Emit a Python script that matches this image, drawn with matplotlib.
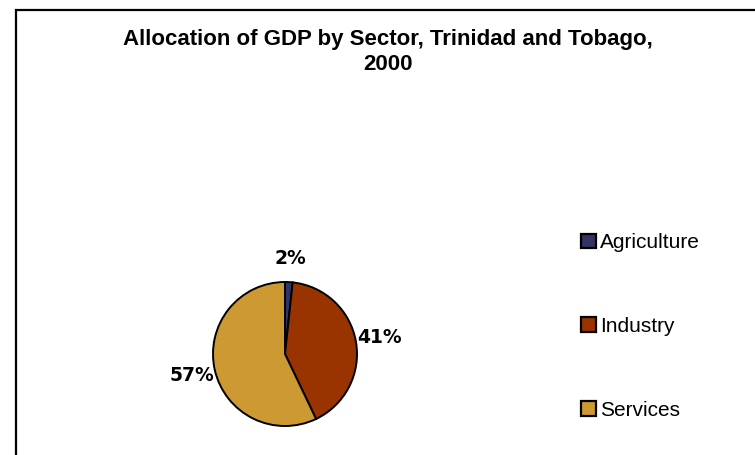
import matplotlib.pyplot as plt
from matplotlib.patches import Rectangle, Patch

# GDP shares by sector, 2000
sectors = ['Agriculture', 'Industry', 'Services']
shares = [1.7, 41.2, 57.1]
colors = ['#333366', '#993300', '#CC9933']

W, H = 755, 455
fig = plt.figure(figsize=(W / 100, H / 100), dpi=100)
fig.patch.set_facecolor('white')

# chart frame (right/bottom edges run off the image)
fig.patches.append(Rectangle((16 / W, -0.1), 1.2, (H - 10) / H + 0.1,
                             transform=fig.transFigure, fill=False,
                             edgecolor='black', linewidth=1.6))

fig.text(388 / W, 1 - 40 / H, 'Allocation of GDP by Sector, Trinidad and Tobago,',
         ha='center', va='center', fontsize=16, fontweight='bold',
         family='Liberation Sans')
fig.text(388 / W, 1 - 65 / H, '2000', ha='center', va='center', fontsize=16,
         fontweight='bold', family='Liberation Sans')

# pie axes: centre (285, 354) px, radius 72 px
cx, cy, r = 285, 354, 72
ax = fig.add_axes([(cx - r) / W, (H - cy - r) / H, 2 * r / W, 2 * r / H])
wedges, texts, autotexts = ax.pie(
    shares, colors=colors, startangle=90, counterclock=False,
    autopct='%1.0f%%', pctdistance=1.33,
    wedgeprops=dict(edgecolor='black', linewidth=1.4),
    textprops=dict(fontsize=13.5, fontweight='bold', family='DejaVu Sans'))
ax.set_xlim(-1, 1)
ax.set_ylim(-1, 1)
ax.set_aspect('equal')
ax.axis('off')

handles = [Patch(facecolor=c, edgecolor='black', linewidth=1.6) for c in colors]
fig.legend(handles, sectors, loc='upper left', bbox_to_anchor=(571 / W, 1 - 223 / H),
           frameon=False, prop=dict(family='Liberation Sans', size=15),
           handlelength=0.7, handleheight=0.7, handletextpad=0.2,
           labelspacing=3.1, borderpad=0)

fig.savefig('out.png', dpi=100)
